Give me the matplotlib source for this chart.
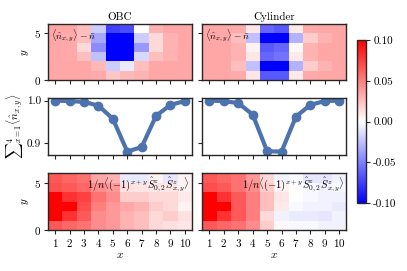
import numpy as np
import matplotlib

matplotlib.use("Agg")
import matplotlib.pyplot as plt

plt.rcParams["font.family"] = "serif"
plt.rcParams["font.serif"] = ["cmr10"]
plt.rcParams["mathtext.fontset"] = "cm"
plt.rcParams["axes.formatter.use_mathtext"] = True
plt.rcParams["font.size"] = 8

x_sites = list(range(1, 11))

# density deviation, rows listed from y=5 (top) down to y=0
dens_obc = [
    [0.035, 0.035, 0.025, -0.020, -0.075, -0.070, 0.000, 0.030, 0.035, 0.035],
    [0.035, 0.033, 0.025, -0.035, -0.100, -0.100, -0.020, 0.015, 0.030, 0.035],
    [0.035, 0.033, 0.015, -0.045, -0.100, -0.100, -0.040, 0.015, 0.030, 0.035],
    [0.035, 0.033, 0.025, -0.025, -0.100, -0.100, -0.015, 0.025, 0.030, 0.035],
    [0.035, 0.035, 0.035, 0.028, -0.020, -0.008, 0.025, 0.035, 0.035, 0.035],
    [0.035, 0.035, 0.035, 0.033, 0.022, 0.028, 0.030, 0.035, 0.035, 0.035],
]
dens_cyl = [
    [0.035, 0.035, 0.033, 0.010, -0.060, -0.065, 0.008, 0.033, 0.035, 0.035],
    [0.035, 0.035, 0.025, -0.025, -0.100, -0.100, -0.030, 0.020, 0.030, 0.035],
    [0.035, 0.035, 0.030, 0.005, -0.065, -0.060, 0.003, 0.030, 0.035, 0.035],
    [0.035, 0.035, 0.030, 0.010, -0.060, -0.055, 0.008, 0.030, 0.035, 0.035],
    [0.035, 0.035, 0.025, -0.025, -0.100, -0.100, -0.030, 0.020, 0.030, 0.035],
    [0.035, 0.035, 0.033, 0.010, -0.065, -0.065, 0.008, 0.033, 0.035, 0.035],
]

# summed density per column
sum_obc = [1.000, 0.999, 0.997, 0.988, 0.957, 0.879, 0.890, 0.964, 0.990, 0.999]
sum_cyl = [1.000, 0.999, 0.994, 0.967, 0.880, 0.879, 0.962, 0.990, 0.999, 1.000]

# staggered spin correlation, rows from y=5 down to y=0
corr_obc = [
    [0.065, 0.060, 0.055, 0.035, 0.030, -0.008, -0.008, 0.005, -0.010, 0.005],
    [0.068, 0.065, 0.060, 0.045, 0.040, 0.012, 0.010, 0.010, 0.010, 0.005],
    [0.100, 0.080, 0.075, 0.055, 0.045, 0.020, 0.020, 0.015, 0.015, 0.008],
    [0.100, 0.100, 0.070, 0.050, 0.040, 0.035, 0.030, 0.020, 0.015, 0.005],
    [0.100, 0.080, 0.065, 0.045, 0.040, 0.030, 0.025, 0.015, 0.020, 0.012],
    [0.065, 0.060, 0.055, 0.045, 0.040, 0.030, 0.025, 0.015, 0.012, 0.010],
]
corr_cyl = [
    [0.065, 0.060, 0.055, 0.040, 0.015, -0.005, -0.003, -0.010, -0.010, -0.005],
    [0.070, 0.065, 0.055, 0.045, 0.020, 0.005, 0.000, -0.003, -0.005, -0.003],
    [0.100, 0.080, 0.065, 0.050, 0.025, 0.010, 0.000, -0.003, -0.005, -0.005],
    [0.100, 0.100, 0.065, 0.050, 0.025, 0.008, -0.003, -0.005, -0.005, -0.008],
    [0.100, 0.080, 0.065, 0.050, 0.015, -0.005, -0.008, -0.008, -0.010, -0.005],
    [0.065, 0.060, 0.055, 0.045, 0.020, 0.003, -0.003, -0.003, -0.005, -0.005],
]

titles = ["OBC", "Cylinder"]
xe = np.arange(0.5, 11.0, 1.0)
ye = np.arange(0, 7)
line_color = "#4C72B0"
spine_color = "0.15"

fig = plt.figure(figsize=(4.07, 2.71), dpi=100)
lefts = [0.118, 0.497]
w = 0.354
rows = [(0.705, 0.207), (0.428, 0.210), (0.151, 0.210)]

mesh = None
for col in range(2):
    l = lefts[col]
    ax_d = fig.add_axes([l, rows[0][0], w, rows[0][1]])
    ax_s = fig.add_axes([l, rows[1][0], w, rows[1][1]])
    ax_c = fig.add_axes([l, rows[2][0], w, rows[2][1]])

    dens = np.array([dens_obc, dens_cyl][col])[::-1]
    corr = np.array([corr_obc, corr_cyl][col])[::-1]
    sums = [sum_obc, sum_cyl][col]

    mesh = ax_d.pcolormesh(xe, ye, dens, cmap="bwr", vmin=-0.1, vmax=0.1)
    ax_c.pcolormesh(xe, ye, corr, cmap="bwr", vmin=-0.1, vmax=0.1)
    ax_s.plot(x_sites, sums, "-o", color=line_color, lw=3, ms=6)

    ax_d.set_title(titles[col], fontsize=8, pad=3)
    ax_d.text(0.02, 0.93, r"$\langle\hat{n}_{x,y}\rangle-\bar{n}$", transform=ax_d.transAxes,
              ha="left", va="top", fontsize=7)
    ax_c.text(0.985, 0.95, r"$1/n\langle(-1)^{x+y}\hat{S}^z_{0,2}\hat{S}^z_{x,y}\rangle$",
              transform=ax_c.transAxes, ha="right", va="top", fontsize=7.5)

    for ax in (ax_d, ax_s, ax_c):
        ax.set_xlim(0.5, 10.5)
        ax.set_xticks(x_sites)
        for sp in ax.spines.values():
            sp.set_color(spine_color)
            sp.set_linewidth(1.0)
        ax.tick_params(length=3, width=0.8, color=spine_color, pad=2, labelsize=8)

    ax_s.set_ylim(0.871, 1.006)
    ax_s.set_yticks([0.9, 1.0])
    ax_s.yaxis.set_major_formatter(matplotlib.ticker.FormatStrFormatter("%.1f"))
    for ax in (ax_d, ax_c):
        ax.set_ylim(0, 6)
        ax.set_yticks([0, 5])

    ax_d.set_xticklabels([])
    ax_s.set_xticklabels([])
    ax_c.set_xlabel(r"$x$", labelpad=1)
    if col == 0:
        ax_d.set_ylabel(r"$y$", labelpad=2)
        ax_c.set_ylabel(r"$y$", labelpad=2)
        ax_s.set_ylabel(r"${\sum}_{x=1}^{4}\langle\hat{n}_{x,y}\rangle$", labelpad=1)
    else:
        ax_d.set_yticklabels([])
        ax_s.set_yticklabels([])
        ax_c.set_yticklabels([])

cax = fig.add_axes([0.878, 0.251, 0.022, 0.601])
cb = fig.colorbar(mesh, cax=cax, ticks=[-0.1, -0.05, 0, 0.05, 0.1], format="%.2f")
cb.outline.set_edgecolor(spine_color)
cb.outline.set_linewidth(1.0)
cax.tick_params(length=3, width=0.8, color=spine_color, pad=2, labelsize=8)

fig.savefig("out.png", dpi=100)
